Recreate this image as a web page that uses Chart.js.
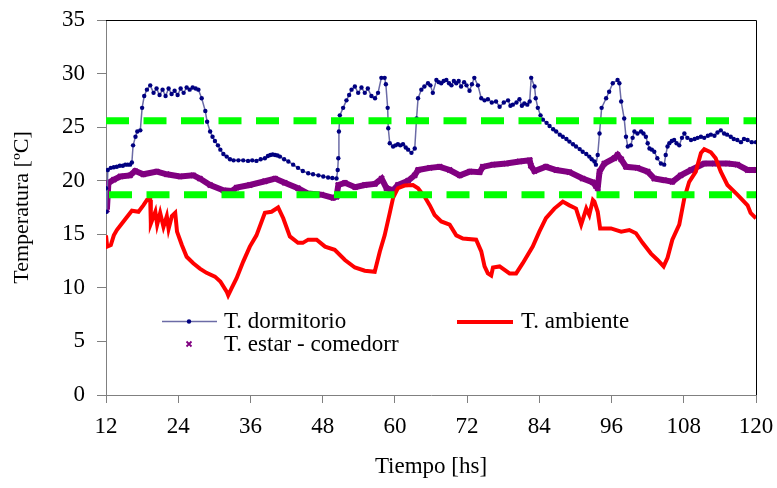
<!DOCTYPE html>
<html>
<head>
<meta charset="utf-8">
<script src="https://cdn.jsdelivr.net/npm/chart.js@4"></script>
<style>
  html, body { margin: 0; padding: 0; background: #fff; }
</style>
</head>
<body>
<canvas id="tempChart" width="777" height="488"></canvas>
<script>
// T. dormitorio
const dormHours = [
    12.0, 12.1, 12.3, 12.8, 13.3, 13.8, 14.3, 14.8, 15.2, 15.6,
    16.0, 16.3, 16.5, 16.9, 17.2, 17.7, 18.0, 18.35, 18.8, 19.35,
    19.9, 20.4, 20.9, 21.4, 21.9, 22.4, 22.9, 23.4, 23.9, 24.4,
    24.9, 25.4, 25.9, 26.4, 26.9, 27.35, 27.9, 28.5, 28.8, 29.3,
    29.7, 30.1, 30.6, 31.0, 31.5, 32.05, 32.6, 33.2, 34.0, 34.8,
    35.6, 36.3, 37.0, 37.7, 38.4, 38.9, 39.3, 39.7, 40.1, 40.5,
    40.9, 41.6, 42.3, 43.1, 43.9, 44.7, 45.6, 46.4, 47.3, 48.1,
    48.9, 49.6, 50.3, 50.5, 50.6, 50.7, 50.85, 51.4, 51.95, 52.4,
    52.8, 53.35, 53.9, 54.45, 55.0, 55.5, 56.1, 56.7, 57.2, 57.75,
    58.3, 58.5, 58.8, 58.9, 59.15, 59.7, 60.1, 60.5, 60.9, 61.35,
    61.8, 62.2, 62.75, 63.3, 63.6, 63.85, 64.4, 64.9, 65.5, 65.9,
    66.3, 66.9, 67.3, 67.7, 68.1, 68.55, 69.0, 69.4, 69.8, 70.2,
    70.6, 71.0, 71.5, 71.9, 72.4, 72.8, 73.2, 73.8, 74.35, 74.9,
    75.45, 76.1, 76.8, 77.4, 78.1, 78.8, 79.2, 79.6, 80.2, 80.7,
    81.1, 81.5, 82.0, 82.4, 82.65, 83.2, 83.4, 83.75, 84.2, 84.6,
    85.2, 85.7, 86.3, 86.8, 87.4, 87.9, 88.5, 89.0, 89.6, 90.1,
    90.7, 91.2, 91.8, 92.3, 92.7, 93.15, 93.4, 93.7, 94.0, 94.35,
    95.1, 95.6, 96.2, 97.0, 97.3, 97.6, 98.1, 98.4, 98.7, 99.2,
    99.5, 99.8, 100.3, 100.9, 101.3, 101.7, 102.0, 102.3, 102.7, 103.1,
    103.6, 104.2, 104.75, 105.0, 105.3, 105.6, 106.0, 106.4, 106.8, 107.25,
    107.7, 108.1, 108.6, 109.2, 109.8, 110.3, 110.85, 111.4, 112.0, 112.5,
    113.1, 113.6, 114.15, 114.7, 115.2, 115.8, 116.3, 116.9, 117.5, 118.0,
    118.6, 119.3, 120.0
];
const dormTemps = [
    19.3, 17.1, 21.0, 21.2, 21.25, 21.3, 21.4, 21.4, 21.5, 21.5,
    21.5, 21.7, 23.3, 24.1, 24.6, 24.7, 26.8, 27.9, 28.5, 28.9,
    28.2, 28.6, 28.0, 28.5, 27.9, 28.6, 28.1, 28.4, 28.0, 28.6,
    28.2, 28.7, 28.5, 28.7, 28.6, 28.5, 27.7, 26.5, 25.5, 24.6,
    24.1, 23.7, 23.3, 22.9, 22.5, 22.25, 22.0, 21.9, 21.9, 21.9,
    21.85, 21.9, 21.85, 22.0, 22.1, 22.3, 22.4, 22.45, 22.4, 22.35,
    22.25, 22.0, 21.8, 21.5, 21.2, 20.9, 20.7, 20.6, 20.5, 20.4,
    20.3, 20.25, 20.2, 21.0, 22.1, 24.6, 26.1, 26.8, 27.5, 28.0,
    28.5, 28.8, 28.2, 28.7, 28.2, 28.6, 27.9, 27.7, 28.2, 29.6,
    29.6, 29.0, 26.8, 24.9, 23.5, 23.2, 23.3, 23.4, 23.3, 23.4,
    23.1, 22.9, 22.6, 23.0, 25.8, 27.7, 28.5, 28.8, 29.1, 28.9,
    28.2, 29.4, 29.2, 29.1, 29.3, 29.4, 29.1, 28.9, 29.3, 29.1,
    29.3, 28.8, 29.2, 28.9, 28.4, 29.0, 29.6, 28.9, 27.7, 27.5,
    27.6, 27.3, 27.4, 26.9, 27.3, 27.5, 27.0, 27.1, 27.3, 27.6,
    27.0, 27.2, 27.1, 27.4, 29.6, 28.8, 27.7, 26.8, 26.1, 25.7,
    25.4, 25.1, 24.8, 24.6, 24.3, 24.1, 23.9, 23.65, 23.4, 23.2,
    22.95, 22.7, 22.5, 22.25, 22.0, 21.8, 21.5, 22.4, 24.4, 26.8,
    27.7, 28.3, 29.1, 29.4, 29.1, 27.4, 25.8, 24.1, 23.2, 23.3,
    24.0, 24.6, 24.4, 24.6, 24.4, 24.1, 23.5, 23.0, 22.9, 22.7,
    22.1, 21.6, 21.5, 22.4, 23.2, 23.5, 23.7, 23.8, 23.5, 23.3,
    24.0, 24.4, 24.0, 23.8, 23.9, 24.0, 24.1, 24.0, 24.2, 24.3,
    24.2, 24.5, 24.7, 24.4, 24.3, 24.1, 23.9, 23.8, 23.6, 23.9,
    23.8, 23.6, 23.6
];

// T. estar - comedorr
const estarHours = [12.0, 12.15, 12.4, 13.3, 14.4, 16.0, 16.85, 18.2, 20.45, 22.1, 24.3, 26.5, 27.6, 29.3, 31.5, 32.9, 33.7, 35.9, 38.4, 40.1, 41.7, 43.9, 45.6, 47.8, 49.75, 50.3, 50.6, 51.7, 53.4, 55.0, 56.7, 57.8, 58.6, 59.7, 60.5, 62.2, 63.3, 63.85, 65.8, 67.45, 69.1, 70.8, 72.45, 74.1, 74.6, 76.3, 78.5, 80.7, 82.4, 82.6, 83.2, 85.1, 86.8, 89.0, 91.2, 92.9, 93.4, 93.7, 94.0, 94.8, 96.45, 97.0, 97.6, 98.4, 100.3, 102.0, 103.1, 104.75, 106.1, 107.5, 109.2, 111.4, 113.05, 115.3, 116.9, 118.6, 120.0];
const estarTemps = [19.8, 17.3, 19.8, 20.1, 20.4, 20.5, 20.9, 20.6, 20.85, 20.6, 20.4, 20.5, 20.2, 19.6, 19.1, 19.05, 19.35, 19.6, 19.95, 20.2, 19.8, 19.3, 18.8, 18.7, 18.4, 18.5, 19.6, 19.8, 19.4, 19.6, 19.7, 20.2, 19.3, 19.1, 19.6, 20.0, 20.5, 21.0, 21.2, 21.3, 21.0, 20.5, 20.85, 20.8, 21.3, 21.5, 21.6, 21.8, 21.9, 21.4, 20.9, 21.3, 21.0, 20.8, 20.2, 19.85, 19.5, 19.3, 20.85, 21.6, 22.1, 22.4, 22.0, 21.3, 21.2, 20.85, 20.2, 20.05, 19.9, 20.5, 21.0, 21.6, 21.6, 21.6, 21.5, 21.0, 21.0];

// T. ambiente
const ambHours = [12.0, 12.2, 12.8, 13.3, 13.8, 14.9, 16.3, 17.4, 18.2, 18.8, 19.35, 19.45, 20.2, 20.5, 21.0, 21.55, 22.1, 22.4, 22.95, 23.5, 23.8, 24.6, 25.4, 26.5, 27.6, 28.7, 30.1, 31.0, 32.05, 32.3, 32.9, 33.7, 34.8, 35.9, 37.0, 38.4, 39.5, 40.6, 41.45, 42.55, 43.9, 44.7, 45.6, 47.0, 48.4, 50.0, 51.7, 53.35, 55.0, 56.65, 57.5, 58.3, 59.15, 59.7, 60.5, 61.6, 63.0, 63.85, 64.95, 65.8, 66.6, 67.7, 69.1, 70.2, 71.3, 73.5, 74.35, 74.9, 75.45, 76.0, 76.3, 77.4, 79.05, 80.15, 81.25, 82.9, 84.0, 85.1, 86.5, 87.9, 89.0, 90.1, 90.95, 91.8, 92.3, 92.9, 93.15, 93.7, 94.1, 95.9, 97.6, 98.95, 100.05, 101.15, 102.55, 103.65, 104.65, 105.3, 106.1, 107.25, 108.1, 108.9, 110.0, 110.85, 111.4, 112.5, 113.3, 114.15, 115.25, 116.9, 118.6, 119.1, 120.0];
const ambTemps = [14.9, 13.85, 14.0, 14.9, 15.4, 16.2, 17.2, 17.1, 17.7, 18.2, 18.2, 16.0, 17.1, 15.9, 17.0, 15.7, 16.7, 15.5, 16.7, 17.0, 15.25, 14.0, 12.9, 12.3, 11.8, 11.4, 11.05, 10.6, 9.65, 9.3, 10.0, 10.9, 12.45, 13.85, 14.9, 17.0, 17.1, 17.5, 16.5, 14.8, 14.2, 14.2, 14.5, 14.5, 13.85, 13.55, 12.6, 11.9, 11.6, 11.5, 13.4, 14.9, 17.0, 18.4, 19.3, 19.55, 19.6, 19.3, 18.5, 17.7, 16.8, 16.2, 15.9, 14.9, 14.6, 14.5, 13.4, 12.0, 11.35, 11.15, 11.9, 12.0, 11.35, 11.35, 12.3, 13.85, 15.25, 16.5, 17.4, 18.05, 17.7, 17.4, 15.9, 17.4, 16.8, 18.2, 18.05, 17.1, 15.55, 15.55, 15.25, 15.4, 15.1, 14.2, 13.2, 12.6, 12.0, 12.8, 14.5, 15.9, 18.4, 19.9, 20.85, 22.6, 22.95, 22.65, 22.1, 20.85, 19.6, 18.7, 17.7, 17.0, 16.5];

// comfort band (green dashed lines)
const limitHours = [12, 120];
const upperLimit = 25.6;
const lowerLimit = 18.7;

// axes
const xTicks = [12, 24, 36, 48, 60, 72, 84, 96, 108, 120];
const yTicks = [0, 5, 10, 15, 20, 25, 30, 35];

const seriesNames = ['T. dormitorio', 'T. ambiente', 'T. estar - comedorr'];

const serif = "'Liberation Serif', 'Times New Roman', serif";

function toPoints(xs, ys) {
    return xs.map((x, i) => ({ x: x, y: ys[i] }));
}

// frame on top/right + legend drawn inside the plot, like the original
const frameLegend = {
    id: 'frameLegend',
    afterDraw(chart) {
        const ctx = chart.ctx;
        const a = chart.chartArea;
        ctx.save();
        ctx.strokeStyle = '#000';
        ctx.lineWidth = 1;
        ctx.beginPath();
        ctx.moveTo(a.left, Math.round(a.top) + 0.5);
        ctx.lineTo(Math.round(a.right) + 0.5, Math.round(a.top) + 0.5);
        ctx.lineTo(Math.round(a.right) + 0.5, a.bottom);
        ctx.stroke();

        ctx.font = '23px ' + serif;
        ctx.fillStyle = '#000';
        ctx.textBaseline = 'alphabetic';
        ctx.textAlign = 'left';

        // T. dormitorio
        ctx.strokeStyle = '#6b6ba6';
        ctx.lineWidth = 1.5;
        ctx.beginPath();
        ctx.moveTo(162, 321.5);
        ctx.lineTo(217, 321.5);
        ctx.stroke();
        ctx.fillStyle = '#000080';
        ctx.beginPath();
        ctx.arc(189, 321.5, 2.2, 0, Math.PI * 2);
        ctx.fill();
        ctx.fillStyle = '#000';
        ctx.fillText(seriesNames[0], 224, 328);

        // T. ambiente
        ctx.strokeStyle = '#ff0000';
        ctx.lineWidth = 4;
        ctx.beginPath();
        ctx.moveTo(457, 322);
        ctx.lineTo(513, 322);
        ctx.stroke();
        ctx.fillText(seriesNames[1], 521, 328);

        // T. estar - comedorr
        ctx.strokeStyle = '#800080';
        ctx.lineWidth = 1.8;
        ctx.beginPath();
        ctx.moveTo(186.5, 341.5); ctx.lineTo(191.5, 346.5);
        ctx.moveTo(191.5, 341.5); ctx.lineTo(186.5, 346.5);
        ctx.stroke();
        ctx.fillText(seriesNames[2], 224, 350.5);
        ctx.restore();
    }
};

let ctx = document.getElementById('tempChart').getContext('2d');

let chart = new Chart(ctx, {
    type: 'line',
    data: {
        datasets: [{
            label: 'upper',
            data: toPoints(limitHours, [upperLimit, upperLimit]),
            borderColor: '#00ff00',
            borderWidth: 7,
            borderDash: [23, 14.5],
            pointRadius: 0
        }, {
            label: 'lower',
            data: toPoints(limitHours, [lowerLimit, lowerLimit]),
            borderColor: '#00ff00',
            borderWidth: 7,
            borderDash: [23, 14.5],
            borderDashOffset: -3,
            pointRadius: 0
        }, {
            label: seriesNames[1],
            data: toPoints(ambHours, ambTemps),
            borderColor: '#ff0000',
            borderWidth: 4,
            pointRadius: 0,
            tension: 0
        }, {
            label: seriesNames[0],
            data: toPoints(dormHours, dormTemps),
            borderColor: '#6b6ba6',
            borderWidth: 1.5,
            pointRadius: 2.2,
            pointBackgroundColor: '#000080',
            pointBorderColor: '#000080',
            pointBorderWidth: 0,
            tension: 0
        }, {
            label: seriesNames[2],
            data: toPoints(estarHours, estarTemps),
            borderColor: '#800080',
            borderWidth: 6,
            pointStyle: 'crossRot',
            pointRadius: 3.5,
            pointBorderWidth: 2,
            pointBorderColor: '#800080',
            tension: 0
        }]
    },
    options: {
        responsive: false,
        animation: false,
        devicePixelRatio: 1,
        layout: {
            padding: { top: 20, right: 21, left: 0, bottom: 0 }
        },
        plugins: {
            legend: { display: false },
            title: { display: false },
            tooltip: { enabled: false }
        },
        scales: {
            x: {
                type: 'linear',
                min: xTicks[0],
                max: xTicks[xTicks.length - 1],
                afterBuildTicks: (scale) => {
                    scale.ticks = xTicks.map(v => ({ value: v }));
                },
                afterFit: (scale) => {
                    scale.height = 93;
                    scale.paddingLeft = 0;
                    scale.paddingRight = 0;
                },
                ticks: {
                    color: '#000',
                    font: { family: serif, size: 23 },
                    padding: 10,
                    maxRotation: 0,
                    autoSkip: false
                },
                grid: {
                    drawOnChartArea: false,
                    drawTicks: true,
                    tickLength: 8,
                    color: '#808080'
                },
                border: { color: '#808080', width: 1 },
                title: {
                    display: true,
                    text: 'Tiempo [hs]',
                    color: '#000',
                    font: { family: serif, size: 23 },
                    padding: { top: 0, bottom: 7 }
                }
            },
            y: {
                min: yTicks[0],
                max: yTicks[yTicks.length - 1],
                afterBuildTicks: (scale) => {
                    scale.ticks = yTicks.map(v => ({ value: v }));
                },
                afterFit: (scale) => {
                    scale.width = 106;
                    scale.paddingTop = 0;
                    scale.paddingBottom = 0;
                },
                ticks: {
                    color: '#000',
                    font: { family: serif, size: 23 },
                    padding: 12
                },
                grid: {
                    drawOnChartArea: false,
                    drawTicks: true,
                    tickLength: 9,
                    color: '#808080'
                },
                border: { color: '#808080', width: 1 },
                title: {
                    display: true,
                    text: 'Temperatura [ºC]',
                    color: '#000',
                    font: { family: serif, size: 22 },
                    padding: { top: 9, bottom: 0 }
                }
            }
        }
    },
    plugins: [frameLegend]
});
</script>
</body>
</html>
